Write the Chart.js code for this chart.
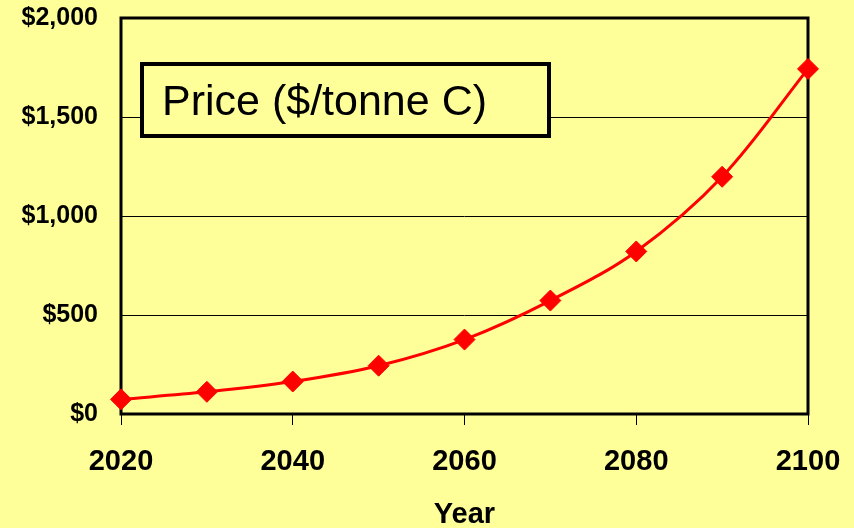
<!DOCTYPE html>
<html><head><meta charset="utf-8">
<script src="https://cdn.jsdelivr.net/npm/chart.js@4.4.0/dist/chart.umd.min.js"></script>
<style>html,body{margin:0;padding:0;background:#FFFF99;}#wrap{width:854px;height:528px;}</style>
</head><body><div id="wrap"><canvas id="c" width="854" height="528"></canvas></div>
<script>
const years = [2020, 2030, 2040, 2050, 2060, 2070, 2080, 2090, 2100];
const prices = [74, 112, 164, 244, 376, 573, 821, 1198, 1743];
const seriesLabel = 'Price ($/tonne C)';
const xTicks = [2020, 2040, 2060, 2080, 2100];
const yTicks = [0, 500, 1000, 1500, 2000];
const xTitle = 'Year';

const FONT = '"Liberation Sans", Arial, sans-serif';
const BG = '#FFFF99';

const bgPlugin = {
  id: 'bg',
  beforeDraw(chart) {
    const ctx = chart.ctx;
    ctx.save();
    ctx.fillStyle = BG;
    ctx.fillRect(0, 0, chart.width, chart.height);
    ctx.restore();
  },
  beforeDatasetsDraw(chart) {
    const a = chart.chartArea, ctx = chart.ctx;
    ctx.save();
    ctx.strokeStyle = '#000';
    ctx.lineWidth = 3;
    ctx.strokeRect(a.left, a.top, a.right - a.left, a.bottom - a.top);
    ctx.restore();
  },
  afterDatasetsDraw(chart) {
    const ctx = chart.ctx;
    ctx.save();
    ctx.fillStyle = BG;
    ctx.fillRect(142, 64, 407, 72);
    ctx.strokeStyle = '#000';
    ctx.lineWidth = 4;
    ctx.strokeRect(142, 64, 407, 72);
    ctx.fillStyle = '#000';
    ctx.font = '43px ' + FONT;
    ctx.textBaseline = 'alphabetic';
    ctx.textAlign = 'left';
    ctx.fillText(chart.data.datasets[0].label, 162, 115);
    ctx.restore();
  }
};

new Chart(document.getElementById('c'), {
  type: 'line',
  data: {
    datasets: [{
      label: seriesLabel,
      data: years.map((y, i) => ({x: y, y: prices[i]})),
      borderColor: '#FF0000',
      backgroundColor: '#FF0000',
      borderWidth: 3,
      tension: 0.35,
      pointStyle: 'rectRot',
      pointRadius: 10.5,
      pointBorderWidth: 1,
      pointBorderColor: '#FF0000',
      pointBackgroundColor: '#FF0000',
      clip: false
    }]
  },
  options: {
    responsive: false,
    animation: false,
    devicePixelRatio: 1,
    layout: {padding: {top: 18, right: 46, left: 0, bottom: 0}},
    plugins: {legend: {display: false}, tooltip: {enabled: false}},
    scales: {
      x: {
        type: 'linear',
        min: 2020, max: 2100,
        afterBuildTicks: s => { s.ticks = xTicks.map(v => ({value: v})); },
        afterFit: s => { s.height = 114; s.paddingLeft = 0; s.paddingRight = 0; },
        border: {display: false},
        grid: {drawOnChartArea: false, drawTicks: true, tickLength: 11, color: '#000', lineWidth: 1},
        ticks: {color: '#000', font: {family: FONT, size: 29, weight: 'bold'}, padding: 20, maxRotation: 0,
          callback: v => String(v)},
        title: {display: true, text: xTitle, color: '#000', font: {family: FONT, size: 29, weight: 'bold'}, padding: {top: 0, bottom: -4}}
      },
      y: {
        min: 0, max: 2000,
        afterBuildTicks: s => { s.ticks = yTicks.map(v => ({value: v})); },
        afterFit: s => { s.width = 121; s.paddingTop = 0; s.paddingBottom = 0; },
        border: {display: false},
        grid: {drawTicks: false, color: '#000', lineWidth: 1},
        ticks: {color: '#000', font: {family: FONT, size: 25, weight: 'bold'}, padding: 23,
          callback: v => '$' + v.toLocaleString('en-US')}
      }
    }
  },
  plugins: [bgPlugin]
});
</script></body></html>
